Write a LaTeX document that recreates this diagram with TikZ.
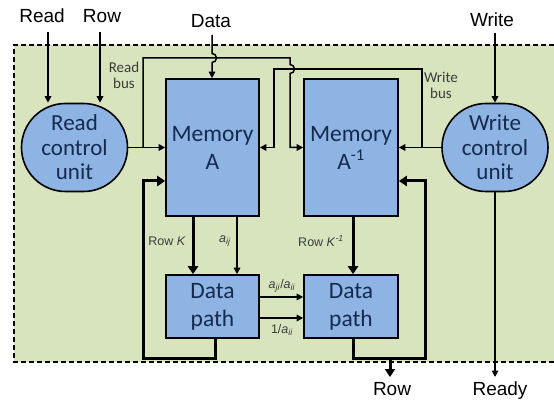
\documentclass[tikz,border=0pt]{standalone}
\usepackage{fontspec}
\setmainfont{Liberation Sans}
\newfontfamily\boxfont{Carlito}
\usetikzlibrary{arrows.meta}
\definecolor{panelgreen}{RGB}{216,228,189}
\definecolor{unitblue}{RGB}{142,180,227}
\definecolor{inknavy}{RGB}{22,42,80}
\definecolor{taggray}{RGB}{60,60,60}
\begin{document}
\begin{tikzpicture}[x=1pt,y=-1pt,
  block/.style={draw=black, line width=1.6pt, fill=unitblue, text=inknavy,
    align=center, inner sep=0pt, font=\boxfont\fontsize{23.5}{28}\selectfont},
  ctrl/.style={block, rounded corners=44pt, minimum width=106pt,
    minimum height=88pt, font=\boxfont\fontsize{23}{24.5}\selectfont},
  wire/.style={line width=1.5pt},
  sig/.style={wire, -{Triangle[length=6.5pt,width=6.5pt]}},
  bus/.style={line width=3pt, -{Triangle[length=8pt,width=10pt]}},
  io/.style={font=\fontsize{19}{22}\selectfont, anchor=base, inner sep=0pt},
  tag/.style={font=\boxfont\fontsize{15}{16}\selectfont, text=taggray,
    align=center, inner sep=0pt},
  sub/.style={font=\fontsize{12.5}{14}\selectfont, text=taggray, inner sep=0pt}
]
% page and dashed system boundary
\fill[white] (0,0) rectangle (554,403);
\useasboundingbox (0,0) rectangle (554,403);
\fill[panelgreen] (14,45) rectangle (554,362);
\draw[line width=1.3pt, dash pattern=on 5pt off 3pt]
  (554,45) -- (14,45) -- (14,362) -- (554,362);

% functional blocks
\node[block, minimum width=93pt, minimum height=137pt] (memA) at (212.5,147.5) {Memory\\A};
\node[block, minimum width=94pt, minimum height=137pt] (memB) at (351,147.5) {Memory\\A\textsuperscript{-1}};
\node[block, minimum width=93pt, minimum height=63pt] (dpA) at (212.5,306.5) {Data\\path};
\node[block, minimum width=94pt, minimum height=63pt] (dpB) at (351,306.5) {Data\\path};
\node[ctrl] (rcu) at (74.5,147.5) {Read\\control\\unit};
\node[ctrl] (wcu) at (495,147.5) {Write\\control\\unit};

% external signal names
\node[io] (tRead) at (42,23) {Read};
\node[io] (tRow) at (102,23) {Row};
\node[io] (tData) at (211,28) {Data};
\node[io] (tWrite) at (492,27) {Write};
\node[io] (bRow) at (392,395) {Row};
\node[io] (bReady) at (500,395) {Ready};

% inputs
\coordinate (inRead) at (48,32);
\coordinate (inRow) at (100,32);
\coordinate (inData) at (212,35);
\coordinate (inWrite) at (495,33);
\draw[sig] (inRead) -- (inRead |- rcu.north);
\draw[sig] (inRow) -- (inRow |- rcu.north);
\draw[sig] (inWrite) -- (wcu.north);
\draw[sig] (inData) -- ++(0,18.5) arc[start angle=90,end angle=-90,radius=4.5pt]
  -- (inData |- memA.north);

% read bus
\coordinate (jR) at (143,147.5);
\coordinate (rTopL) at (143,58);
\coordinate (rTopR) at (290,58);
\coordinate (rHop) at (290,64.5);
\coordinate (rDown) at (290,147.5);
\draw[sig] (rcu.east) -- (memA.west);
\draw[sig] (jR) -- (rTopL) -- (rTopR) -- (rHop)
  arc[start angle=90,end angle=-90,radius=4.5pt] -- (rDown) -- (memB.west);

% write bus
\coordinate (jW) at (422,147.5);
\coordinate (wTopR) at (422,69);
\coordinate (wTopL) at (274,69);
\coordinate (wDown) at (274,147.5);
\draw[sig] (wcu.west) -- (memB.east);
\draw[sig] (jW) -- (wTopR) -- (wTopL) -- (wDown) -- (memA.east);

% memories to data paths
\coordinate (kA) at (193,0);
\coordinate (aA) at (237,0);
\coordinate (kB) at (353,0);
\draw[bus] (memA.south -| kA) -- (dpA.north -| kA);
\draw[sig] (memA.south -| aA) -- (dpA.north -| aA);
\draw[bus] (memB.south -| kB) -- (dpB.north -| kB);

% between data paths
\coordinate (hU) at (0,297);
\coordinate (hL) at (0,318);
\draw[sig] (dpA.east |- hU) -- (dpB.west |- hU);
\draw[sig] (dpA.east |- hL) -- (dpB.west |- hL);

% write-back loops
\coordinate (fA0) at (215,338);
\coordinate (fA1) at (215,358);
\coordinate (fA2) at (143,358);
\coordinate (fA3) at (143,181);
\draw[bus] (fA0) -- (fA1) -- (fA2) -- (fA3) -- (memA.west |- fA3);
\coordinate (fB0) at (353,338);
\coordinate (fB1) at (353,358);
\coordinate (fB2) at (425,358);
\coordinate (fB3) at (425,181);
\draw[bus] (fB0) -- (fB1) -- (fB2) -- (fB3) -- (memB.east |- fB3);

% outputs
\coordinate (oRow0) at (390,358);
\coordinate (oRow1) at (390,377);
\coordinate (oReady) at (495,377);
\draw[bus] (oRow0) -- (oRow1);
\draw[sig] (wcu.south) -- (oReady);

% bus and signal labels
\node[tag] (lRbus) at (124,75) {Read\\bus};
\node[tag] (lWbus) at (441,85) {Write\\bus};
\node[sub] (lRowK) at (167,241) {Row \textit{K}};
\node[sub] (lAij) at (225,241) {\textit{a}\textsubscript{\textit{ij}}};
\node[sub] (lRowKi) at (321,241) {Row \textit{K}\textsuperscript{\textit{-1}}};
\node[sub] (lRatio) at (282,286) {\textit{a}\textsubscript{\textit{ji}}/\textit{a}\textsubscript{\textit{ii}}};
\node[sub] (lInv) at (282,330) {1/\textit{a}\textsubscript{\textit{ii}}};
\end{tikzpicture}
\end{document}
